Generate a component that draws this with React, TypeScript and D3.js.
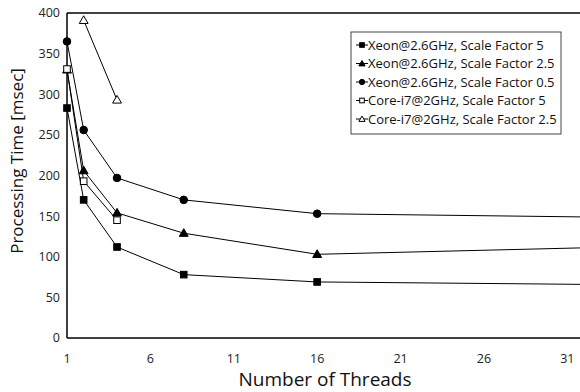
import React from 'react'
import * as d3 from 'd3'

// threads on x, processing time (msec) on y
const threads = [1, 2, 4, 8, 16, 32]
const xeonSf5 = [283, 170, 112, 78, 69, 66]
const xeonSf25 = [330, 206, 154, 129, 103, 111]
const xeonSf05 = [365, 256, 197, 170, 153, 149]
const coreSf5 = [331, 193, 145]
const coreSf25 = [null, 391, 293]

const xTicks = [1, 6, 11, 16, 21, 26, 31]
const yTicks = [0, 50, 100, 150, 200, 250, 300, 350, 400]

const series = [
  { name: 'Xeon@2.6GHz, Scale Factor 5', values: xeonSf5, shape: 'square', filled: true },
  { name: 'Xeon@2.6GHz, Scale Factor 2.5', values: xeonSf25, shape: 'triangle', filled: true },
  { name: 'Xeon@2.6GHz, Scale Factor 0.5', values: xeonSf05, shape: 'circle', filled: true },
  { name: 'Core-i7@2GHz, Scale Factor 5', values: coreSf5, shape: 'square', filled: false },
  { name: 'Core-i7@2GHz, Scale Factor 2.5', values: coreSf25, shape: 'triangle', filled: false }
]

const W = 580
const H = 392
const margin = { top: 13, right: -4, bottom: 54, left: 67 }
const font = 'Open Sans, sans-serif'

const Marker = ({ shape, filled, x, y, s = 1 }) => {
  const fill = filled ? '#000' : '#fff'
  if (shape === 'square') {
    const h = 3.3 * s
    return <rect x={x - h} y={y - h} width={h * 2} height={h * 2} fill={fill} stroke="#000" strokeWidth={1} />
  }
  if (shape === 'circle') {
    return <circle cx={x} cy={y} r={3.8 * s} fill={fill} stroke="#000" strokeWidth={1} />
  }
  const sym = d3.symbol().type(d3.symbolTriangle).size(34 * s * s)()
  return <path d={sym} transform={`translate(${x},${y + 0.6})`} fill={fill} stroke="#000" strokeWidth={1} />
}

export default function App() {
  const x = d3.scaleLinear().domain([1, 32]).range([margin.left, W - margin.right])
  const y = d3.scaleLinear().domain([0, 400]).range([H - margin.bottom, margin.top])

  const line = d3.line<any>()
    .defined(d => d.v != null)
    .x(d => x(d.t))
    .y(d => y(d.v))

  const lx = 351
  const ly = 32

  return (
    <svg width={W} height={H} style={{ position: 'absolute', left: 0, top: 0, background: '#fff' }}>
      <defs>
        <clipPath id="plot">
          <rect x={margin.left} y={margin.top} width={W - margin.left} height={H - margin.bottom - margin.top} />
        </clipPath>
      </defs>

      {/* frame */}
      <line x1={margin.left} x2={W} y1={y(400)} y2={y(400)} stroke="#000" strokeWidth={1.5} />
      <line x1={margin.left} x2={W} y1={y(0)} y2={y(0)} stroke="#000" strokeWidth={1.5} />
      <line x1={margin.left} x2={margin.left} y1={y(0)} y2={y(400)} stroke="#000" strokeWidth={1.5} />

      {yTicks.map(t => (
        <text key={t} x={margin.left - 7} y={y(t)} dy="0.35em" textAnchor="end" fontFamily={font} fontSize={12.5} fill="#222">{t}</text>
      ))}
      {xTicks.map(t => (
        <text key={t} x={x(t)} y={y(0) + 25} textAnchor="middle" fontFamily={font} fontSize={12.5} fill="#222">{t}</text>
      ))}

      <text x={325} y={386} textAnchor="middle" fontFamily={font} fontSize={19} fill="#111">Number of Threads</text>
      <text transform={`translate(23,161) rotate(-90)`} textAnchor="middle" fontFamily={font} fontSize={17} fill="#111">Processing Time [msec]</text>

      <g clipPath="url(#plot)">
        {series.map(s => {
          const pts = s.values.map((v, i) => ({ t: threads[i], v }))
          return <path key={s.name} d={line(pts) || ''} fill="none" stroke="#000" strokeWidth={1} />
        })}
      </g>
      {series.map(s => (
        <g key={s.name + 'm'}>
          {s.values.map((v, i) => v == null || x(threads[i]) > W ? null : (
            <Marker key={i} shape={s.shape} filled={s.filled} x={x(threads[i])} y={y(v)} />
          ))}
        </g>
      ))}

      {/* legend */}
      <rect x={lx} y={ly} width={210} height={102} fill="#fff" stroke="#444" strokeWidth={1} />
      {series.map((s, i) => {
        const yy = ly + 13 + i * 18.5
        return (
          <g key={s.name + 'l'}>
            <line x1={lx + 5} x2={lx + 17} y1={yy} y2={yy} stroke="#000" strokeWidth={1} />
            <Marker shape={s.shape} filled={s.filled} x={lx + 11} y={yy} s={0.7} />
            <text x={lx + 17} y={yy} dy="0.35em" fontFamily={font} fontSize={13} fill="#111">{s.name}</text>
          </g>
        )
      })}
    </svg>
  )
}
